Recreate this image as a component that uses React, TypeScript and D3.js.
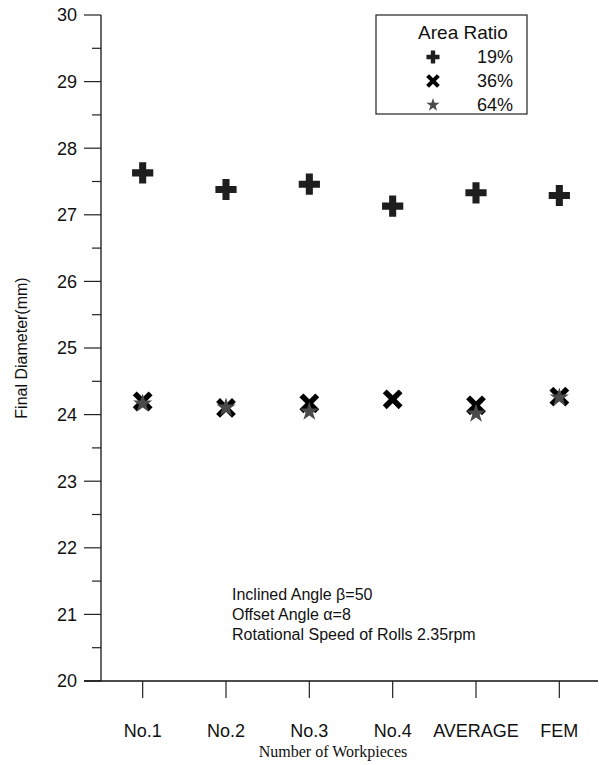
import React from 'react'
import * as d3 from 'd3'

const workpieces = ['No.1', 'No.2', 'No.3', 'No.4', 'AVERAGE', 'FEM']
const ratio19 = [27.63, 27.38, 27.46, 27.13, 27.33, 27.29]
const ratio36 = [24.2, 24.1, 24.17, 24.23, 24.14, 24.27]
const ratio64 = [24.18, 24.12, 24.06, null, 24.03, 24.27]
const yTicks = [20, 21, 22, 23, 24, 25, 26, 27, 28, 29, 30]
const notes = ['Inclined Angle β=50', 'Offset Angle α=8', 'Rotational Speed of Rolls 2.35rpm']
const legendLabels = ['19%', '36%', '64%']

const width = 599
const height = 765
const plot = { left: 101, right: 601, top: 15, bottom: 681 }
const sans = "'Liberation Sans', Arial, sans-serif"

const x = d3.scalePoint<string>().domain(workpieces).range([plot.left, plot.right]).padding(0.5)
const y = d3.scaleLinear().domain([20, 30]).range([plot.bottom, plot.top])

const crossPath = (s: number) => d3.symbol(d3.symbolCross, s)()
const starPath = (s: number) => d3.symbol(d3.symbolStar, s)()

function Plus({ cx, cy, size }: { cx: number; cy: number; size: number }) {
  return <path d={crossPath(size) || ''} transform={`translate(${cx},${cy})`} fill="#1e1e1e" />
}

function Cross({ cx, cy, r, w }: { cx: number; cy: number; r: number; w: number }) {
  return (
    <g transform={`translate(${cx},${cy})`} stroke="#000" strokeWidth={w} strokeLinecap="square">
      <line x1={-r} y1={-r} x2={r} y2={r} />
      <line x1={-r} y1={r} x2={r} y2={-r} />
    </g>
  )
}

function Star({ cx, cy, size }: { cx: number; cy: number; size: number }) {
  return <path d={starPath(size) || ''} transform={`translate(${cx},${cy + 1})`} fill="#4a4a4a" />
}

export default function App() {
  const minorTicks = d3.range(20.5, 30, 1)
  const legend = { x: 376, y: 15, w: 151, h: 99 }

  return (
    <svg
      width={width}
      height={height}
      style={{ position: 'absolute', left: 0, top: 0, background: '#fff' }}
      fontFamily={sans}
    >
      {/* y axis */}
      <line x1={plot.left} x2={plot.left} y1={plot.top} y2={plot.bottom} stroke="#333" strokeWidth={1.5} />
      {yTicks.map((t) => (
        <g key={'y' + t}>
          <line x1={plot.left - 17} x2={plot.left} y1={y(t)} y2={y(t)} stroke="#222" strokeWidth={1.2} />
          <text x={plot.left - 24} y={y(t)} dy="0.35em" textAnchor="end" fontSize={18} fill="#111">
            {t}
          </text>
        </g>
      ))}
      {minorTicks.map((t) => (
        <line key={'m' + t} x1={plot.left - 9} x2={plot.left} y1={y(t)} y2={y(t)} stroke="#222" strokeWidth={1.2} />
      ))}
      <text
        transform={`translate(27,${(plot.top + plot.bottom) / 2}) rotate(-90)`}
        textAnchor="middle"
        fontSize={16}
        fill="#111"
      >
        Final Diameter(mm)
      </text>

      {/* x axis */}
      <line x1={plot.left - 17} x2={width - 1} y1={plot.bottom} y2={plot.bottom} stroke="#111" strokeWidth={1.5} />
      {workpieces.map((w) => (
        <g key={'x' + w}>
          <line x1={x(w)} x2={x(w)} y1={plot.bottom} y2={plot.bottom + 17} stroke="#222" strokeWidth={1.2} />
          <text x={x(w)} y={737} textAnchor="middle" fontSize={18} fill="#111">
            {w}
          </text>
        </g>
      ))}
      <text x={333} y={757} textAnchor="middle" fontSize={16} fontFamily="'Liberation Serif', 'Times New Roman', serif" fill="#111">
        Number of Workpieces
      </text>

      {/* notes */}
      {notes.map((n, i) => (
        <text key={n} x={232} y={600 + i * 20} fontSize={16} fill="#111">
          {n}
        </text>
      ))}

      {/* data */}
      {workpieces.map((w, i) => (
        <g key={'d' + w}>
          <Cross cx={x(w) as number} cy={y(ratio36[i])} r={6} w={5.5} />
          {ratio64[i] != null && <Star cx={x(w) as number} cy={y(ratio64[i] as number)} size={115} />}
          <Plus cx={x(w) as number} cy={y(ratio19[i])} size={250} />
        </g>
      ))}

      {/* legend */}
      <rect x={legend.x} y={legend.y} width={legend.w} height={legend.h} fill="#fff" stroke="#222" strokeWidth={1.2} />
      <text x={463} y={39} textAnchor="middle" fontSize={19} fill="#111">
        Area Ratio
      </text>
      <Plus cx={433} cy={57} size={95} />
      <Cross cx={433} cy={81} r={4} w={4} />
      <Star cx={433} cy={104} size={55} />
      {legendLabels.map((l, i) => (
        <text key={l} x={477} y={57 + i * 24} dy="0.35em" fontSize={18} fill="#111">
          {l}
        </text>
      ))}
    </svg>
  )
}
